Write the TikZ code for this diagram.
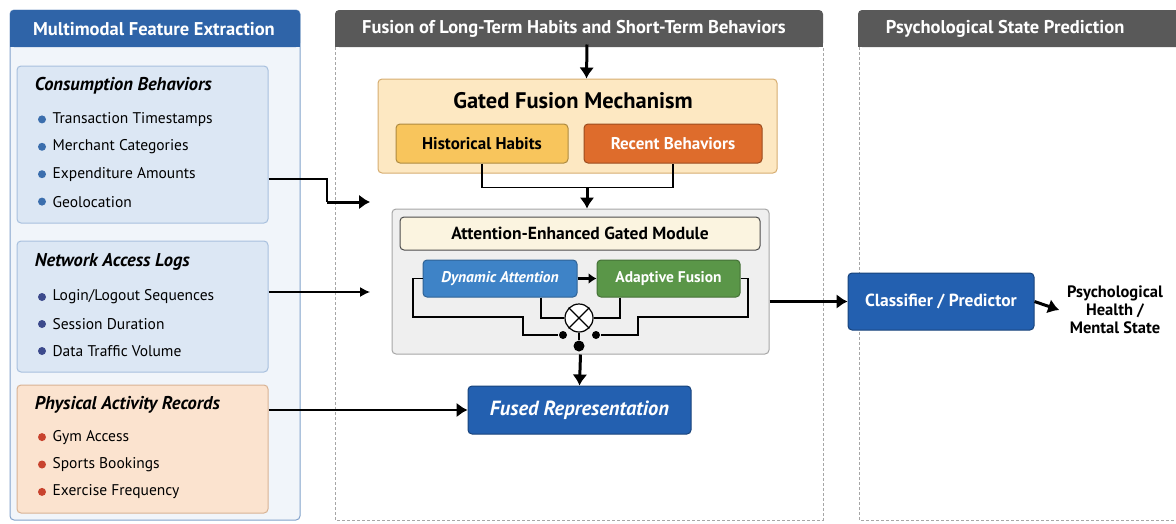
\documentclass[tikz,border=0pt]{standalone}
\usepackage{fontspec}
\setmainfont{PT Sans}
\usetikzlibrary{
    arrows.meta,
    positioning
}

\definecolor{hdrblue}{HTML}{2F64A8}
\definecolor{hdrgray}{HTML}{595959}
\definecolor{panelblue}{HTML}{F1F5FA}
\definecolor{srcblue}{HTML}{DCE7F4}
\definecolor{srcline}{HTML}{A8C0DE}
\definecolor{srcpeach}{HTML}{FBE3CF}
\definecolor{peachline}{HTML}{D8B394}
\definecolor{gatefill}{HTML}{FDE8C2}
\definecolor{gateline}{HTML}{D6AD70}
\definecolor{habit}{HTML}{F8C55C}
\definecolor{recent}{HTML}{DE6C2C}
\definecolor{modfill}{HTML}{EFEFEF}
\definecolor{modhdr}{HTML}{FBF4E0}
\definecolor{attblue}{HTML}{3E83C7}
\definecolor{fusgreen}{HTML}{5A9648}
\definecolor{deepblue}{HTML}{2360B0}
\definecolor{bulletblue}{HTML}{3B6EAD}
\definecolor{bulletnavy}{HTML}{3C4A8C}
\definecolor{bulletred}{HTML}{C8432E}

\begin{document}
\begin{tikzpicture}[x=1pt, y=-1pt, line width=1.2pt,
    box/.style={draw, rounded corners=4pt, inner sep=0pt, line width=1pt},
    hdr/.style={text=white, font=\fontsize{18.5}{20}\selectfont\bfseries},
    srctitle/.style={anchor=west, font=\fontsize{18.5}{20}\selectfont\bfseries\itshape},
    item/.style={anchor=west, inner sep=2pt, font=\fontsize{15.5}{17}\selectfont},
    label/.style={font=\fontsize{17}{19}\selectfont\bfseries},
    dot/.style={circle, fill=black, inner sep=0pt, minimum size=8pt},
    flow/.style={-{Latex[length=10pt,width=10pt]}, line width=1.3pt},
    bigflow/.style={-{Latex[length=11pt,width=15pt]}, line width=3pt},
    panel/.style={dash pattern=on 3pt off 2pt, draw=gray!70, line width=0.8pt}]

    \useasboundingbox (0,0) rectangle (1176,523);

    % panels
    \draw[hdrblue!60, fill=panelblue, rounded corners=4pt, line width=1pt] (10,10) rectangle (300,520);
    \fill[hdrblue, rounded corners=4pt] (10,10) rectangle (300,47);
    \fill[hdrblue] (10,30) rectangle (300,47);
    \node (hleft) [hdr] at (154,29) {Multimodal Feature Extraction};

    \fill[hdrgray, rounded corners=4pt] (335,10) rectangle (823,47);
    \fill[hdrgray] (335,30) rectangle (823,47);
    \node (hmid) [hdr] at (574,29) {Fusion of Long-Term Habits and Short-Term Behaviors};
    \draw[panel] (335,47) -- (335,520) -- (823,520) -- (823,47);

    \fill[hdrgray, rounded corners=4pt] (858,10) rectangle (1190,47);
    \fill[hdrgray] (858,30) rectangle (1190,47);
    \node (hright) [hdr, anchor=west] at (882,29) {Psychological State Prediction};
    \draw[panel] (859,47) -- (859,520) -- (1176,520);

    % sources
    \node (cons) [box, fill=srcblue, draw=srcline, minimum width=251, minimum height=157] at (142.5,144.5) {};
    \node (consT) [srctitle] at (31,86) {Consumption Behaviors};
    \foreach \t [count=\i] in {Transaction Timestamps, Merchant Categories, Expenditure Amounts, Geolocation} {
        \node (cons\i) [item] at (50,{92+27.4*\i}) {\t};
        \fill[bulletblue] ([xshift=-8pt]cons\i.west) circle (4pt);
    }

    \node (netw) [box, fill=srcblue, draw=srcline, minimum width=251, minimum height=131] at (142.5,306.5) {};
    \node (netwT) [srctitle] at (31,262) {Network Access Logs};
    \foreach \t [count=\i] in {Login/Logout Sequences, Session Duration, Data Traffic Volume} {
        \node (netw\i) [item] at (50,{270+27*\i}) {\t};
        \fill[bulletnavy] ([xshift=-8pt]netw\i.west) circle (4pt);
    }

    \node (phys) [box, fill=srcpeach, draw=peachline, minimum width=251, minimum height=128] at (142.5,449) {};
    \node (physT) [srctitle] at (31,405) {Physical Activity Records};
    \foreach \t [count=\i] in {Gym Access, Sports Bookings, Exercise Frequency} {
        \node (phys\i) [item] at (50,{409.7+27.4*\i}) {\t};
        \fill[bulletred] ([xshift=-8pt]phys\i.west) circle (4pt);
    }

    % gated fusion
    \node (gate) [box, fill=gatefill, draw=gateline, minimum width=399, minimum height=94] at (577.5,126) {};
    \node (gateT) [font=\fontsize{22.5}{24}\selectfont\bfseries] at (573,101) {Gated Fusion Mechanism};
    \node (hist) [box, fill=habit, draw=habit!70!black, label, minimum width=172, minimum height=39] at (482,143.5) {Historical Habits};
    \node (recent) [box, fill=recent, draw=recent!70!black, label, text=white, minimum width=178, minimum height=39] at (673,143.5) {Recent Behaviors};
    \coordinate (merge) at (587,187);
    \draw (hist.south) -- ++(0,24) -| (recent.south);

    % attention module
    \node (module) [box, fill=modfill, draw=gray!70, minimum width=377, minimum height=145] at (580.5,281.5) {};
    \node (modhdr) [box, fill=modhdr, draw=black!70, font=\fontsize{17.5}{19}\selectfont\bfseries, minimum width=360, minimum height=33] at (580,233.5) {Attention-Enhanced Gated Module};
    \node (dyn) [box, fill=attblue, draw=attblue!75!black, text=white, font=\fontsize{15.5}{18}\selectfont\bfseries\itshape, minimum width=154, minimum height=37] at (500,278.5) {Dynamic Attention};
    \node (adapt) [box, fill=fusgreen, draw=fusgreen!75!black, text=white, font=\fontsize{15.5}{18}\selectfont\bfseries, minimum width=143, minimum height=37] at (668.5,278.5) {Adaptive Fusion};
    \draw[flow, line width=2.5pt, -{Latex[length=8pt,width=11pt]}] (dyn) -- (adapt);

    \node (mult) [circle, draw, fill=white, minimum size=28pt, inner sep=0pt] at (579,318) {};
    \draw (mult.north west) -- (mult.south east) (mult.north east) -- (mult.south west);
    \node (dotL) [dot] at (563,335) {};
    \node (dotR) [dot] at (596,335) {};
    \node (dotB) [dot, minimum size=11pt] at (579,346) {};

    \draw (dyn.west) -| (413,317) -- (523,317) |- (dotL);
    \draw (adapt.east) -| (748,317) -- (638,317) |- (dotR);
    \draw (dyn.south -| 541,0) |- (mult.west);
    \draw (adapt.south -| 620,0) |- (mult.east);
    \draw (mult.south) -- (dotB);

    % output side
    \node (fused) [box, fill=deepblue, draw=deepblue!70!black, text=white, font=\fontsize{20.5}{22}\selectfont\bfseries\itshape, minimum width=223, minimum height=48] at (579.5,410) {Fused Representation};
    \node (clf) [box, fill=deepblue, draw=deepblue!70!black, text=white, font=\fontsize{17.5}{19}\selectfont\bfseries, minimum width=186, minimum height=57] at (941,301.5) {Classifier / Predictor};
    \node (out) [align=center, font=\fontsize{16.5}{18}\selectfont\bfseries] at (1115,310) {Psychological\\Health /\\Mental State};

    % connectors
    \coordinate (inA) at (370,202);
    \coordinate (inB) at (370,292);
    \draw (cons.east |- 0,179) -| (327,202);
    \draw[bigflow] (327,202) -- (inA);
    \draw[flow] (netw.east |- 0,292) -- (inB);
    \draw[bigflow, line width=2.5pt] (phys.east |- fused.west) -- (fused.west);
    \draw[bigflow] (hmid.south) ++(13,3) -- ([xshift=9pt]gate.north);
    \draw[bigflow] (merge) -- (merge |- module.north);
    \draw[bigflow] (module.south) -- (fused.north);
    \draw[bigflow] (module.east |- clf.west) -- (clf.west);
    \draw[bigflow] (clf.east) -- ([xshift=-4pt]out.west);
\end{tikzpicture}
\end{document}
